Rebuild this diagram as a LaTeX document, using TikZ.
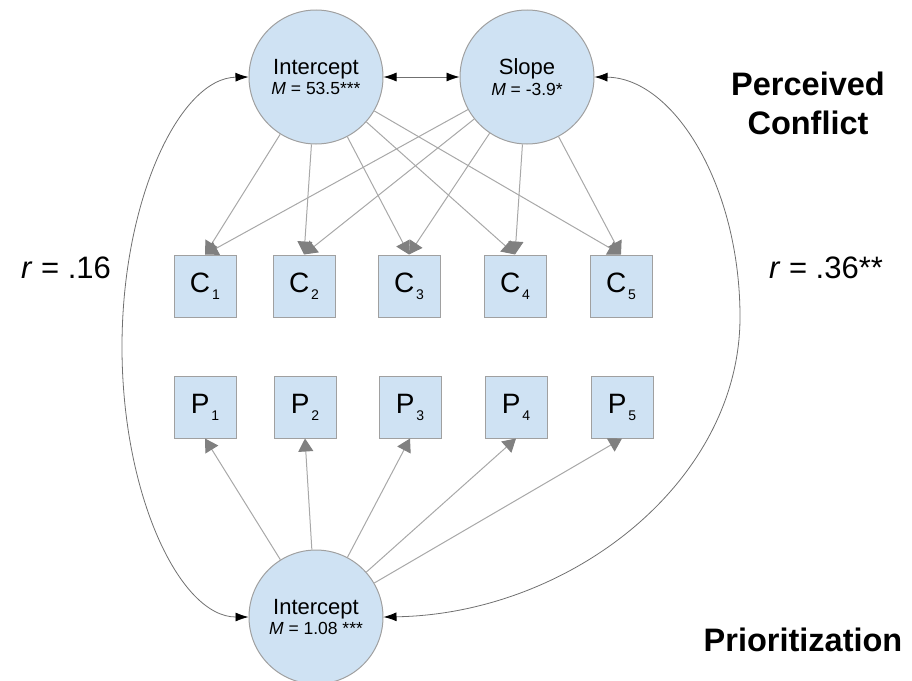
\documentclass[tikz,border=0pt]{standalone}
\usepackage{fontspec}
\setmainfont{Liberation Sans}
\usetikzlibrary{arrows.meta}
\definecolor{boxfill}{HTML}{CFE2F3}
\definecolor{edgegray}{HTML}{A0A0A0}
\definecolor{linegray}{HTML}{A8A8A8}
\definecolor{headgray}{HTML}{808080}
\definecolor{corrgray}{HTML}{707070}
\newcommand\obsub[1]{\raisebox{-7pt}{\fontsize{14}{14}\selectfont #1}}
\newcommand\obstext[2]{{\fontsize{28}{28}\selectfont #1\kern2pt\obsub{#2}}}
\newcommand\lattext[2]{\fontsize{22}{24}\selectfont #1\\[3pt]\fontsize{17.5}{20}\selectfont #2}
\begin{document}
\begin{tikzpicture}[x=1pt,y=-1pt,
  latent/.style={circle, draw=edgegray, line width=1pt, fill=boxfill,
    minimum size=134pt, inner sep=0pt, align=center},
  obs/.style={rectangle, draw=edgegray, line width=1pt, fill=boxfill,
    minimum size=62pt, inner sep=0pt},
  load/.style={draw=linegray, line width=1pt,
    -{Triangle[length=13pt,width=15pt,color=headgray]}},
  corr/.style={draw=corrgray, line width=0.8pt,
    {Latex[length=13pt,width=9pt,color=black]}-{Latex[length=13pt,width=9pt,color=black]}},
  lbl/.style={font=\fontsize{31}{31}\selectfont},
  title/.style={font=\fontsize{32.5}{39}\selectfont\bfseries, align=center}
]
\useasboundingbox (0,0) rectangle (912,680);

% latent factors
\node[latent] (ti) at (316,77) {\lattext{Intercept}{\textit{M} = 53.5***}};
\node[latent] (sl) at (527,77) {\lattext{Slope}{\textit{M} = -3.9*}};
\node[latent] (bi) at (316,617) {\lattext{Intercept}{\textit{M} = 1.08 ***}};

% observed
\node[obs] (c1) at (205,286) {\obstext{C}{1}};
\node[obs] (c2) at (304,286) {\obstext{C}{2}};
\node[obs] (c3) at (409,286) {\obstext{C}{3}};
\node[obs] (c4) at (515,286) {\obstext{C}{4}};
\node[obs] (c5) at (621,286) {\obstext{C}{5}};
\node[obs] (p1) at (205,407) {\obstext{P}{1}};
\node[obs] (p2) at (305,407) {\obstext{P}{2}};
\node[obs] (p3) at (410,407) {\obstext{P}{3}};
\node[obs] (p4) at (516,407) {\obstext{P}{4}};
\node[obs] (p5) at (622,407) {\obstext{P}{5}};

% loadings
\foreach \i in {1,...,5} {
  \draw[load] (ti) -- (c\i.north);
  \draw[load] (sl) -- (c\i.north);
  \draw[load] (bi) -- (p\i.south);
}

% correlations
\coordinate (lm) at (122,347);
\coordinate (rm) at (740,317);
\draw[corr] (ti) -- (sl);
\draw[corr] (ti.west) .. controls (180,78) and (122,199) .. (lm)
                      .. controls (122,495) and (180,617) .. (bi.west);
\draw[corr] (sl.east) .. controls (674,78) and (740,186) .. (rm)
                      .. controls (740,482) and (570,614) .. (bi.east);

% labels
\node[lbl] (rl) at (66,268) {\textit{r} = .16};
\node[lbl] (rr) at (826,268) {\textit{r} = .36**};
\node[title] (pc) at (808,103) {Perceived\\Conflict};
\node[title] (pr) at (803,640) {Prioritization};
\end{tikzpicture}
\end{document}
